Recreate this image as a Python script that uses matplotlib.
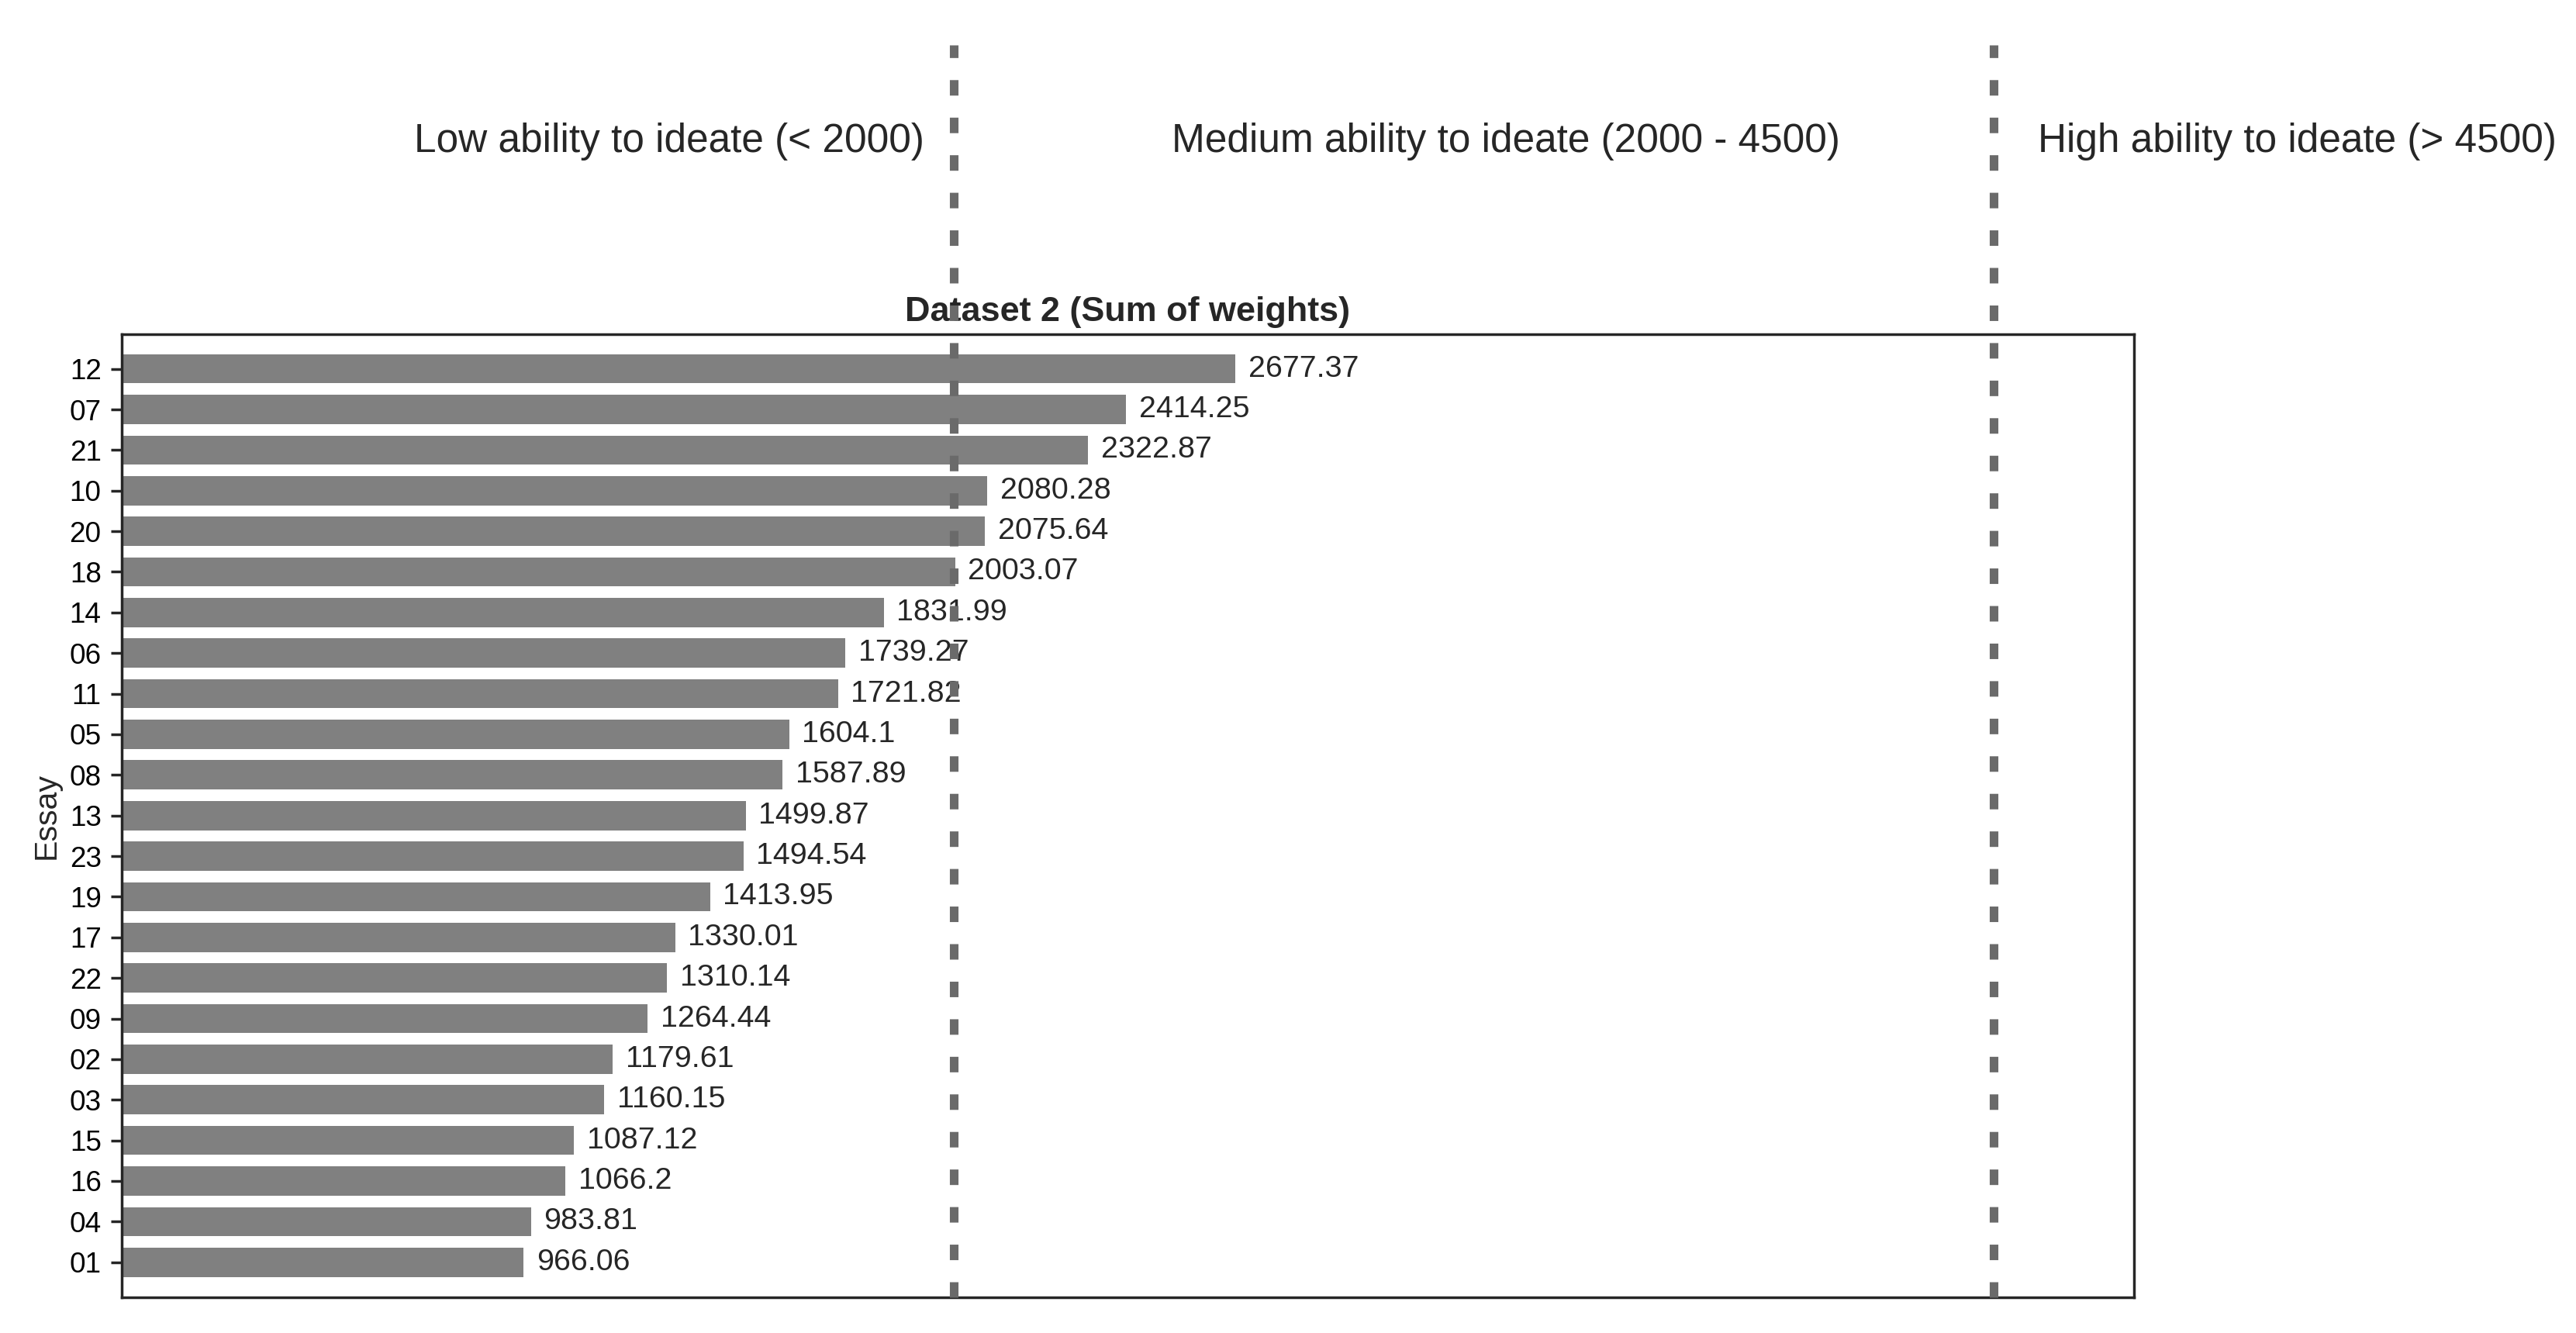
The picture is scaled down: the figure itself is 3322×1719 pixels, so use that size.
#%% Import libs
import matplotlib
matplotlib.use("Agg")
import matplotlib.pyplot as plt

#%% Data (Dataset 2, sum of weights per essay)
essays = ["12", "07", "21", "10", "20", "18", "14", "06", "11", "05", "08", "13",
          "23", "19", "17", "22", "09", "02", "03", "15", "16", "04", "01"]
weights = [2677.37, 2414.25, 2322.87, 2080.28, 2075.64, 2003.07, 1831.99, 1739.27,
           1721.82, 1604.1, 1587.89, 1499.87, 1494.54, 1413.95, 1330.01, 1310.14,
           1264.44, 1179.61, 1160.15, 1087.12, 1066.2, 983.81, 966.06]
thresholds = [2000, 4500]
group_labels = ["Low ability to ideate (< 2000)",
                "Medium ability to ideate (2000 - 4500)",
                "High ability to ideate (> 4500)"]

#%% Style
plt.rcParams['font.family'] = ['Liberation Sans', 'DejaVu Sans']
dark = "#262626"
plt.rcParams['text.color'] = dark
plt.rcParams['axes.labelcolor'] = dark

#%% Plot
fig = plt.figure(figsize=(16.61, 8.595), dpi=200)
ax = fig.add_axes([0.0473, 0.0269, 0.7810, 0.7226])

y = list(range(len(essays)))
bars = ax.barh(y, weights, height=0.72, color="#808080", zorder=2)
ax.bar_label(bars, fmt="%g", padding=6, fontsize=14.2, color=dark, zorder=3)

ax.set_yticks(y)
ax.set_yticklabels(essays)
ax.set_ylim(len(essays) - 1 + 0.86, -0.86)
ax.set_xlim(0, 4837)
ax.set_xticks([])
ax.set_ylabel("Essay", fontsize=14.8, labelpad=4)
ax.set_title("Dataset 2 (Sum of weights)", fontsize=16.2, fontweight="bold", pad=6)

ax.tick_params(axis="y", labelsize=13.3, length=5, width=1.25, color=dark, pad=4.5)
for sp in ax.spines.values():
    sp.set_linewidth(1.25)
    sp.set_color(dark)

# threshold lines, reaching up past the axes into the header area
for t in thresholds:
    ax.axvline(t, ymin=0, ymax=1.3, color="#6a6a6a", linewidth=4,
               dashes=(1.8, 2.56), clip_on=False, zorder=5)

#%% Group headers
fig.text(0.3588, 0.8862, group_labels[0], ha="right", va="baseline", fontsize=18.5)
fig.text(0.4548, 0.8862, group_labels[1], ha="left", va="baseline", fontsize=18.5)
fig.text(0.7910, 0.8862, group_labels[2], ha="left", va="baseline", fontsize=18.5)

fig.savefig("out.png", dpi=200, facecolor="white")
